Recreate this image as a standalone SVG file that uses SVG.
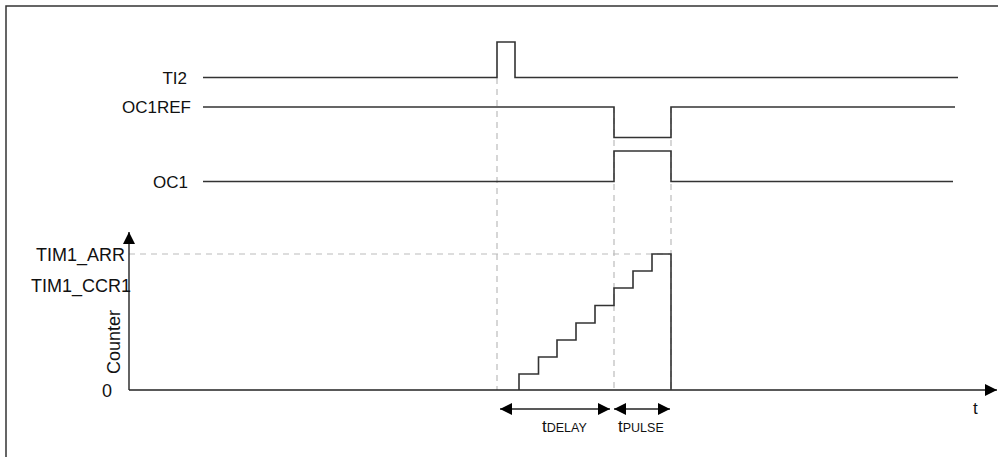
<svg xmlns="http://www.w3.org/2000/svg" width="998" height="457" viewBox="0 0 998 457">
<defs>
<style>
.sig{fill:none;stroke:#333;stroke-width:1.6}
.dash{fill:none;stroke:#bbb;stroke-width:1.2;stroke-dasharray:6,5}
.ax{fill:none;stroke:#222;stroke-width:1.4}
.lbl{font-family:"Liberation Sans",Arial,sans-serif;font-size:17px;fill:#111}
.big{font-family:"Liberation Sans",Arial,sans-serif;font-size:18px;fill:#111}
.sub{font-size:12.5px}
</style>
<marker id="ah" viewBox="0 0 10 10" refX="10" refY="5" markerWidth="14" markerHeight="12" markerUnits="userSpaceOnUse" orient="auto-start-reverse">
<path d="M0,0 L10,5 L0,10 Z" fill="#000"/>
</marker>
</defs>
<rect x="6" y="6" width="1000" height="460" fill="#fff" stroke="#333" stroke-width="1.5"/>
<g id="connectors">
<path class="dash" d="M497,78 V390 M614,107 V390 M671,107 V390 M129,254 H671"/>
<path class="ax" d="M129,390 V232" marker-end="url(#ah)"/>
<path class="ax" d="M129,390 H997" marker-end="url(#ah)"/>
<path class="ax" d="M500,409 H610" marker-start="url(#ah)" marker-end="url(#ah)"/>
<path class="ax" d="M614,409 H670" marker-start="url(#ah)" marker-end="url(#ah)"/>
</g>
<g id="TI2">
<text class="lbl" x="187" y="84" text-anchor="end">TI2</text>
<path class="sig" d="M203,77.5 H497 V42 H515 V77.5 H958"/>
</g>
<g id="OC1REF">
<text class="lbl" x="191" y="113" text-anchor="end">OC1REF</text>
<path class="sig" d="M203,107 H614 V137.5 H671 V107 H955"/>
</g>
<g id="OC1">
<text class="lbl" x="188" y="188" text-anchor="end">OC1</text>
<path class="sig" d="M203,181.5 H614 V151 H671 V181.5 H953"/>
</g>
<g id="counter">
<text class="big" x="125" y="261" text-anchor="end">TIM1_ARR</text>
<text class="big" x="131" y="292" text-anchor="end">TIM1_CCR1</text>
<text class="big" x="112" y="397" text-anchor="end">0</text>
<text class="big" transform="translate(120,342) rotate(-90)" text-anchor="middle">Counter</text>
<path class="sig" d="M519,390 V374 H538.5 V357 H557 V340 H576 V323 H595 V305.5 H614 V288 H633 V271 H652 V254 H671 V390"/>
</g>
<g id="labels">
<text class="lbl" x="973" y="414">t</text>
<text class="lbl" x="542" y="432">t<tspan class="sub">DELAY</tspan></text>
<text class="lbl" x="618" y="432">t<tspan class="sub">PULSE</tspan></text>
</g>
</svg>
